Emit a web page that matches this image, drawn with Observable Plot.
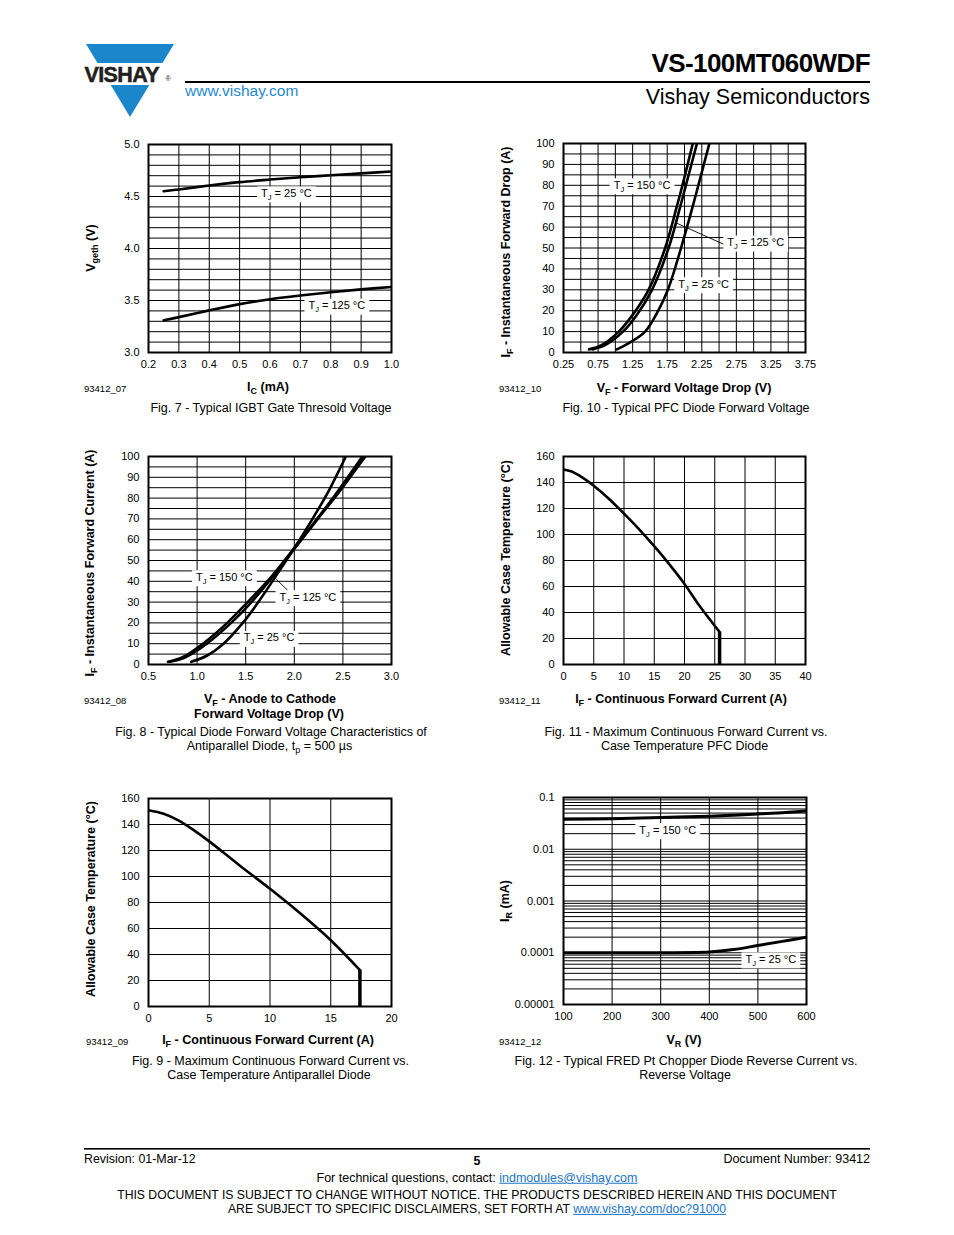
<!DOCTYPE html>
<html><head><meta charset="utf-8">
<script src="https://cdn.jsdelivr.net/npm/d3@7"></script>
<script src="https://cdn.jsdelivr.net/npm/@observablehq/plot@0.6"></script>
<style>
html,body{margin:0;padding:0;background:#fff;}
#page{position:relative;width:954px;height:1235px;overflow:hidden;font-family:"Liberation Sans",Arial,Helvetica,sans-serif;color:#000;background:#fff;}
.t{position:absolute;white-space:nowrap;line-height:1;}
.sub{font-size:72%;position:relative;top:0.32em;}
.b{font-weight:bold;}
a{color:#1a74c4;text-decoration:underline;}
</style></head>
<body><div id="page"></div>
<script>
// ================= DATA =================
// Fig. 7 - Typical IGBT Gate Threshold Voltage
const fig7XTicks = [0.2, 0.3, 0.4, 0.5, 0.6, 0.7, 0.8, 0.9, 1.0];
const fig7YTicks = [3.0, 3.5, 4.0, 4.5, 5.0];
const fig7Ic = [0.25, 0.3, 0.4, 0.5, 0.6, 0.7, 0.8, 0.9, 1.0];
const fig7V25 = [4.55, 4.568, 4.605, 4.638, 4.663, 4.685, 4.704, 4.722, 4.74];
const fig7V125 = [3.31, 3.34, 3.405, 3.465, 3.512, 3.548, 3.58, 3.607, 3.63];
const fig7LabelText = ["TJ = 25 °C", "TJ = 125 °C"];
const fig7LabelX = [0.654, 0.82];
const fig7LabelY = [4.53, 3.45];

// Fig. 10 - Typical PFC Diode Forward Voltage
const fig10XTicks = [0.25, 0.75, 1.25, 1.75, 2.25, 2.75, 3.25, 3.75];
const fig10YTicks = [0, 10, 20, 30, 40, 50, 60, 70, 80, 90, 100];
const fig10V150 = [0.62, 0.8, 1.05, 1.25, 1.48, 1.72, 1.89, 1.97, 2.12];
const fig10I150 = [1.5, 3.5, 10, 18, 30, 50, 70, 80, 100];
const fig10V125 = [0.67, 0.85, 1.11, 1.31, 1.53, 1.77, 1.94, 2.02, 2.18];
const fig10I125 = [1.5, 3.5, 10, 18, 30, 50, 70, 80, 100];
const fig10V25 = [1.02, 1.22, 1.43, 1.62, 1.76, 1.95, 2.12, 2.2, 2.36];
const fig10I25 = [1.5, 5, 10, 20, 30, 50, 70, 80, 100];
const fig10LabelText = ["TJ = 150 °C", "TJ = 125 °C", "TJ = 25 °C"];
const fig10LabelX = [1.386, 3.03, 2.277];
const fig10LabelY = [80, 52.6, 32.7];
const fig10Leader = {x1: 1.866, y1: 62.2, x2: 2.573, y2: 51.7};

// Fig. 8 - Typical Diode Forward Voltage, Antiparallel Diode
const fig8XTicks = [0.5, 1.0, 1.5, 2.0, 2.5, 3.0];
const fig8YTicks = [0, 10, 20, 30, 40, 50, 60, 70, 80, 90, 100];
const fig8V150 = [0.70, 0.85, 1.06, 1.31, 1.52, 1.77, 2.0, 2.25, 2.42, 2.70];
const fig8I150 = [1.3, 3.5, 10, 20, 30, 42.5, 56, 71, 81.5, 100];
const fig8V125 = [0.72, 0.88, 1.1, 1.35, 1.56, 1.79, 2.0, 2.25, 2.43, 2.73];
const fig8I125 = [1.3, 3.5, 10, 20, 30, 43, 55.5, 70.5, 81, 100];
const fig8V25 = [0.94, 1.1, 1.26, 1.47, 1.63, 1.81, 2.0, 2.2, 2.36, 2.53];
const fig8I25 = [1.3, 4.2, 9.5, 20, 30, 42.5, 56, 71, 84, 100];
const fig8LabelText = ["TJ = 150 °C", "TJ = 125 °C", "TJ = 25 °C"];
const fig8LabelX = [1.28, 2.14, 1.74];
const fig8LabelY = [42, 32.4, 12.8];
const fig8Leader = {x1: 1.81, y1: 41.2, x2: 1.95, y2: 34.8};

// Fig. 11 - Max continuous forward current vs case temperature, PFC diode
const fig11XTicks = [0, 5, 10, 15, 20, 25, 30, 35, 40];
const fig11YTicks = [0, 20, 40, 60, 80, 100, 120, 140, 160];
const fig11If = [0, 1.25, 2.5, 3.75, 5, 7.5, 10, 12.5, 15, 17.5, 20, 22.5, 25.8];
const fig11Tc = [150, 148.6, 145.6, 141.8, 137.5, 127.5, 116, 104, 91, 77, 62, 45, 25];
const fig11Limit = {x: 25.8, y1: 0, y2: 25};

// Fig. 9 - Max continuous forward current vs case temperature, antiparallel diode
const fig9XTicks = [0, 5, 10, 15, 20];
const fig9YTicks = [0, 20, 40, 60, 80, 100, 120, 140, 160];
const fig9If = [0, 1.25, 2.5, 3.75, 5, 7.5, 10, 12.5, 15, 17.4];
const fig9Tc = [151, 148.3, 143, 135.5, 127, 108.5, 90.5, 71.5, 51, 28];
const fig9Limit = {x: 17.4, y1: 0, y2: 28};

// Fig. 12 - Typical FRED Pt chopper diode reverse current vs reverse voltage
const fig12XTicks = [100, 200, 300, 400, 500, 600];
const fig12YTicks = [0.00001, 0.0001, 0.001, 0.01, 0.1];
const fig12YTickLabels = ["0.00001", "0.0001", "0.001", "0.01", "0.1"];
const fig12Vr = [100, 200, 300, 400, 450, 500, 550, 600];
const fig12Ir150 = [0.038, 0.039, 0.041, 0.0435, 0.0455, 0.048, 0.051, 0.055];
const fig12Ir25 = [0.0001, 0.0001, 0.0001, 0.000103, 0.000115, 0.000138, 0.000166, 0.0002];
const fig12LabelText = ["TJ = 150 °C", "TJ = 25 °C"];
const fig12LabelX = [314.5, 526.6];
const fig12LabelY = [0.0234, 0.0000745];

// ================= HELPERS =================
const page = document.getElementById("page");
const NS = "http://www.w3.org/2000/svg";
const zip = (xs, ys) => xs.map((x, i) => ({x, y: ys[i]}));
const labelsOf = (t, xs, ys) => t.map((s, i) => ({t: s, x: xs[i], y: ys[i]}));
const grid = (lo, hi, step) => d3.range(Math.round((hi - lo) / step) + 1).map(i => lo + i * step);
const curveStyle = {x: "x", y: "y", stroke: "black", strokeWidth: 2.6, curve: "catmull-rom", clip: true};

function chart(frame, xScale, yScale, xTicks, xFmt, yTicks, yFmt, xGrid, yGrid, marks) {
  const [L, T, R, B] = frame;
  const mL = 62, mR = 12, mT = 10, mB = 30;
  const svg = Plot.plot({
    width: R - L + mL + mR,
    height: B - T + mT + mB,
    marginLeft: mL, marginRight: mR, marginTop: mT, marginBottom: mB,
    style: {background: "transparent", fontFamily: "'Liberation Sans', Arial, sans-serif", fontSize: "11px", color: "black", overflow: "visible"},
    x: xScale,
    y: yScale,
    marks: [
      Plot.ruleX(xGrid, {stroke: "black", strokeWidth: 1}),
      Plot.ruleY(yGrid, {stroke: "black", strokeWidth: 1}),
      ...marks,
      Plot.frame({stroke: "black", strokeWidth: 2}),
      Plot.axisX(xTicks, {tickSize: 0, tickPadding: 8, tickFormat: xFmt, label: null, fontSize: 11}),
      Plot.axisY(yTicks, {tickSize: 0, tickPadding: 9, tickFormat: yFmt, label: null, fontSize: 11})
    ]
  });
  svg.style.position = "absolute";
  svg.style.left = (L - mL) + "px";
  svg.style.top = (T - mT) + "px";
  page.appendChild(svg);
  // subscript J and white boxes behind the curve labels
  svg.querySelectorAll('g[aria-label="text"] text').forEach(t => {
    const s = t.textContent;
    if (!s.startsWith("TJ")) return;
    t.textContent = "";
    const a = document.createElementNS(NS, "tspan"); a.textContent = "T";
    const b = document.createElementNS(NS, "tspan"); b.textContent = "J";
    b.setAttribute("font-size", "7.5"); b.setAttribute("dy", "3");
    const c = document.createElementNS(NS, "tspan"); c.textContent = s.slice(2);
    c.setAttribute("dy", "-3");
    t.append(a, b, c);
    const bb = t.getBBox();
    const r = document.createElementNS(NS, "rect");
    r.setAttribute("x", bb.x - 4); r.setAttribute("y", bb.y - 0.5);
    r.setAttribute("width", bb.width + 8); r.setAttribute("height", bb.height + 1);
    r.setAttribute("fill", "white"); r.setAttribute("stroke", "none");
    if (t.getAttribute("transform")) r.setAttribute("transform", t.getAttribute("transform"));
    t.parentNode.insertBefore(r, t);
  });
}
const labelMark = (data) => Plot.text(data, {x: "x", y: "y", text: "t", fontSize: 11, textAnchor: "middle", fill: "black"});
const leaderMark = (d) => Plot.link([d], {x1: "x1", y1: "y1", x2: "x2", y2: "y2", stroke: "black", strokeWidth: 0.9});

// ================= CHARTS =================
// Fig 7
chart([148, 144, 391, 352], {domain: [0.2, 1.0]}, {domain: [3, 5]},
  fig7XTicks, d => d.toFixed(1), fig7YTicks, d => d.toFixed(1),
  grid(0.2, 1.0, 0.1), grid(3, 5, 0.1),
  [labelMark(labelsOf(fig7LabelText, fig7LabelX, fig7LabelY)),
   Plot.line(zip(fig7Ic, fig7V25), curveStyle),
   Plot.line(zip(fig7Ic, fig7V125), curveStyle)]);

// Fig 10
chart([563, 143, 805, 352], {domain: [0.25, 3.75]}, {domain: [0, 100]},
  fig10XTicks, d => d.toFixed(2), fig10YTicks, d => String(d),
  grid(0.25, 3.75, 0.25), grid(0, 100, 5),
  [leaderMark(fig10Leader),
   labelMark(labelsOf(fig10LabelText, fig10LabelX, fig10LabelY)),
   Plot.line(zip(fig10V150, fig10I150), curveStyle),
   Plot.line(zip(fig10V125, fig10I125), curveStyle),
   Plot.line(zip(fig10V25, fig10I25), curveStyle)]);

// Fig 8
chart([148, 456, 391, 664], {domain: [0.5, 3.0]}, {domain: [0, 100]},
  fig8XTicks, d => d.toFixed(1), fig8YTicks, d => String(d),
  grid(0.5, 3.0, 0.5), grid(0, 100, 5),
  [leaderMark(fig8Leader),
   labelMark(labelsOf(fig8LabelText, fig8LabelX, fig8LabelY)),
   Plot.line(zip(fig8V150, fig8I150), curveStyle),
   Plot.line(zip(fig8V125, fig8I125), curveStyle),
   Plot.line(zip(fig8V25, fig8I25), curveStyle)]);

// Fig 11
chart([563, 456, 805, 664], {domain: [0, 40]}, {domain: [0, 160]},
  fig11XTicks, d => String(d), fig11YTicks, d => String(d),
  grid(0, 40, 5), grid(0, 160, 20),
  [Plot.line(zip(fig11If, fig11Tc), curveStyle),
   Plot.ruleX([fig11Limit], {x: "x", y1: "y1", y2: "y2", stroke: "black", strokeWidth: 3.5})]);

// Fig 9
chart([148, 798, 391, 1006], {domain: [0, 20]}, {domain: [0, 160]},
  fig9XTicks, d => String(d), fig9YTicks, d => String(d),
  grid(0, 20, 5), grid(0, 160, 20),
  [Plot.line(zip(fig9If, fig9Tc), curveStyle),
   Plot.ruleX([fig9Limit], {x: "x", y1: "y1", y2: "y2", stroke: "black", strokeWidth: 3.5})]);

// Fig 12
const logGrid = [0.00001, 0.0001, 0.001, 0.01].flatMap(p => [1, 2, 3, 4, 5, 6, 7, 8, 9].map(m => m * p)).concat([0.1]);
chart([563, 797, 806, 1004], {domain: [100, 600]}, {type: "log", domain: [0.00001, 0.1]},
  fig12XTicks, d => String(d), fig12YTicks, d => fig12YTickLabels[fig12YTicks.indexOf(d)],
  grid(100, 600, 100), logGrid,
  [labelMark(labelsOf(fig12LabelText, fig12LabelX, fig12LabelY)),
   Plot.line(zip(fig12Vr, fig12Ir150), {...curveStyle, strokeWidth: 3}),
   Plot.line(zip(fig12Vr, fig12Ir25), {...curveStyle, strokeWidth: 3})]);

// ================= PAGE TEXT =================
function txt(html, x, y, o = {}) {
  const d = document.createElement("div");
  d.className = "t" + (o.bold ? " b" : "");
  d.innerHTML = html;
  d.style.left = x + "px";
  d.style.top = y + "px";
  d.style.fontSize = (o.size || 12.5) + "px";
  if (o.color) d.style.color = o.color;
  if (o.ls) d.style.letterSpacing = o.ls + "px";
  const a = o.anchor || "middle";
  const tx = a === "start" ? "0" : a === "end" ? "-100%" : "-50%";
  d.style.transform = `translate(${tx},-50%)` + (o.rotate ? " rotate(-90deg)" : "");
  page.appendChild(d);
  return d;
}

// header
const logo = document.createElementNS(NS, "svg");
logo.setAttribute("width", "954"); logo.setAttribute("height", "1235");
logo.style.position = "absolute"; logo.style.left = "0"; logo.style.top = "0";
logo.innerHTML = `
  <polygon points="86,44 174,44 162.5,63 97.5,63" fill="#1b86c9"/>
  <polygon points="110.7,85 149.3,85 130,117" fill="#1b86c9"/>
  <text x="84.5" y="82" font-family="Liberation Sans, Arial, sans-serif" font-weight="bold" font-size="21.5" letter-spacing="-0.6" fill="#231f20" stroke="#231f20" stroke-width="0.5">VISHAY</text>
  <text x="165.5" y="81" font-family="Liberation Sans, Arial, sans-serif" font-size="7" fill="#231f20">®</text>
  <rect x="185" y="81" width="685" height="2" fill="#000"/>
  <rect x="84" y="1148" width="786" height="1.6" fill="#000"/>`;
page.appendChild(logo);
txt("VS-100MT060WDF", 870, 63, {anchor: "end", bold: true, size: 26, ls: -0.6});
txt("Vishay Semiconductors", 870, 97.5, {anchor: "end", size: 21.5});
txt("www.vishay.com", 185, 90.5, {anchor: "start", size: 15.5, color: "#1f8ad2"});

// Fig 7 texts
txt("V<span class='sub'>geth</span> (V)", 91, 248, {bold: true, rotate: true});
txt("I<span class='sub'>C</span> (mA)", 268, 387, {bold: true});
txt("93412_07", 84, 389, {anchor: "start", size: 9.5});
txt("Fig. 7 - Typical IGBT Gate Thresold Voltage", 271, 408);

// Fig 10 texts
txt("I<span class='sub'>F</span> - Instantaneous Forward Drop (A)", 506, 252, {bold: true, rotate: true});
txt("V<span class='sub'>F</span> - Forward Voltage Drop (V)", 684, 388, {bold: true});
txt("93412_10", 499, 389, {anchor: "start", size: 9.5});
txt("Fig. 10 - Typical PFC Diode Forward Voltage", 686, 408);

// Fig 8 texts
txt("I<span class='sub'>F</span> - Instantaneous Forward Current (A)", 90, 563, {bold: true, rotate: true});
txt("V<span class='sub'>F</span> - Anode to Cathode", 270, 699, {bold: true});
txt("Forward Voltage Drop (V)", 269, 713.5, {bold: true});
txt("93412_08", 84, 701, {anchor: "start", size: 9.5});
txt("Fig. 8 - Typical Diode Forward Voltage Characteristics of", 271, 732);
txt("Antiparallel Diode, t<span class='sub'>p</span> = 500 µs", 269.5, 746);

// Fig 11 texts
txt("Allowable Case Temperature (°C)", 506, 558, {bold: true, rotate: true});
txt("I<span class='sub'>F</span> - Continuous Forward Current (A)", 681, 699, {bold: true});
txt("93412_11", 499, 701, {anchor: "start", size: 9.5});
txt("Fig. 11 - Maximum Continuous Forward Current vs.", 686, 732);
txt("Case Temperature PFC Diode", 684.5, 746);

// Fig 9 texts
txt("Allowable Case Temperature (°C)", 91, 899, {bold: true, rotate: true});
txt("I<span class='sub'>F</span> - Continuous Forward Current (A)", 268, 1040, {bold: true});
txt("93412_09", 86, 1042, {anchor: "start", size: 9.5});
txt("Fig. 9 - Maximum Continuous Forward Current vs.", 270.5, 1061);
txt("Case Temperature Antiparallel Diode", 269, 1075);

// Fig 12 texts
txt("I<span class='sub'>R</span> (mA)", 505, 901, {bold: true, rotate: true});
txt("V<span class='sub'>R</span> (V)", 684, 1040, {bold: true});
txt("93412_12", 499, 1042, {anchor: "start", size: 9.5});
txt("Fig. 12 - Typical FRED Pt Chopper Diode Reverse Current vs.", 686, 1061);
txt("Reverse Voltage", 685, 1075);

// footer
txt("Revision: 01-Mar-12", 84, 1159, {anchor: "start", size: 12.4});
txt("5", 477, 1161, {bold: true, size: 12.4});
txt("Document Number: 93412", 870, 1159, {anchor: "end", size: 12.5});
txt("For technical questions, contact: <a>indmodules@vishay.com</a>", 477, 1178, {size: 12.5});
txt("THIS DOCUMENT IS SUBJECT TO CHANGE WITHOUT NOTICE. THE PRODUCTS DESCRIBED HEREIN AND THIS DOCUMENT", 477, 1195, {size: 12.2});
txt("ARE SUBJECT TO SPECIFIC DISCLAIMERS, SET FORTH AT <a>www.vishay.com/doc?91000</a>", 477, 1209, {size: 12.2});
</script>
</body></html>
